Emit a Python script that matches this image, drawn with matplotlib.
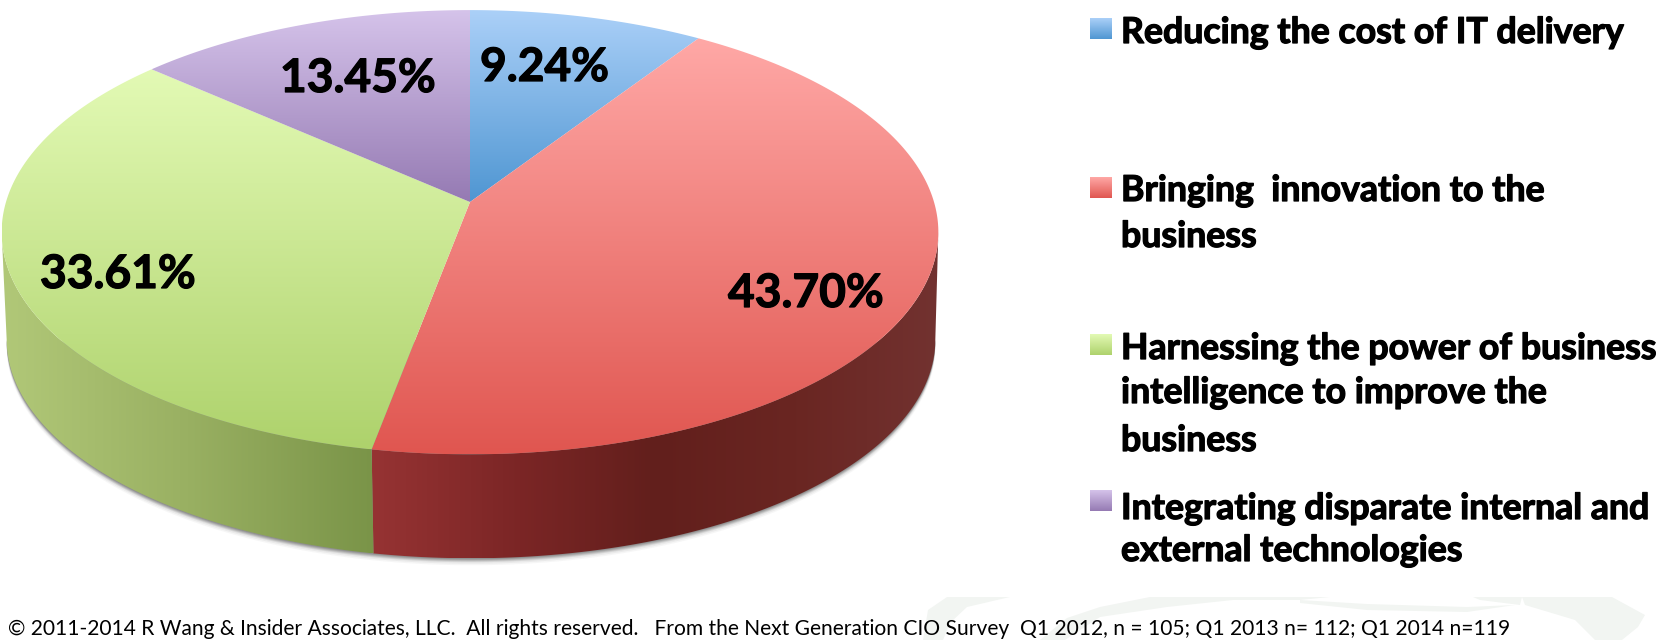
import numpy as np
import matplotlib
matplotlib.use('Agg')
import matplotlib.pyplot as plt
import matplotlib.patheffects as pe
from matplotlib.colors import LinearSegmentedColormap
from matplotlib.patches import Polygon

plt.rcParams['font.family'] = ['Lato', 'DejaVu Sans']

# ----- chart data -----
categories = ['Reducing the cost of IT delivery',
              'Bringing  innovation to the\nbusiness',
              'Harnessing the power of business\nintelligence to improve the\nbusiness',
              'Integrating disparate internal and\nexternal technologies']
shares = [9.24, 43.70, 33.61, 13.45]
value_labels = ['9.24%', '43.70%', '33.61%', '13.45%']
footer = ('\u00a9 2011-2014 R Wang & Insider Associates, LLC.  All rights reserved.   '
          'From the Next Generation CIO Survey  Q1 2012, n = 105; Q1 2013 n= 112; Q1 2014 n=119')

# gradient ends, light to dark
top_colors = [('#abd0f8', '#4f96d2'), ('#ffa8a6', '#e05650'),
              ('#e3fab5', '#aed26c'), ('#d5c3ea', '#957ab3')]
wall_colors = [None, ['#963333', '#7c2626', '#621f1c', '#6a2622', '#723230'],
               ['#b1c878', '#99b062', '#7a9448'], None]

label_x = [480, 728, 40, 280]
label_y = [81, 307, 288, 92]
swatch_y = [18, 177, 334, 490]
line_y = [[43], [201, 247], [359, 403, 451], [519, 561]]

# perspective ellipse for top and bottom rim, in pixels
CX, K = 470, 0.136
TOP = {'a': 464, 'b': 218, 'y0': 202, 'cx': CX}
BOT = {'a': 460, 'b': 214.5, 'y0': 310, 'cx': CX + 1}
SIDE = np.arccos(-K)    # angle where the rim turns back, silhouette of the wall


def rim(theta, g):
    # theta is clockwise from 12 o'clock, radians
    w = 1 + K * np.cos(theta)
    return g['cx'] + g['a'] * np.sin(theta) / w, g['y0'] - g['b'] * np.cos(theta) / w


def gradient_fill(ax, verts, colors, horizontal=False, zorder=2):
    cmap = LinearSegmentedColormap.from_list('g', colors)
    patch = Polygon(verts, closed=True, fc='none', ec='none', transform=ax.transData)
    ax.add_patch(patch)
    x0, x1 = verts[:, 0].min(), verts[:, 0].max()
    y0, y1 = verts[:, 1].min(), verts[:, 1].max()
    ramp = np.linspace(0, 1, 256)
    ramp = ramp[None, :] if horizontal else ramp[:, None]
    im = ax.imshow(ramp, cmap=cmap, vmin=0, vmax=1, extent=(x0, x1, y1, y0),
                   aspect='auto', interpolation='bilinear', zorder=zorder)
    im.set_clip_path(patch)


fig = plt.figure(figsize=(16.65, 6.40), dpi=100)
ax = fig.add_axes([0, 0, 1, 1])

edges = 2 * np.pi * np.concatenate(([0], np.cumsum(shares))) / np.sum(shares)
heavy = [pe.withStroke(linewidth=0.9, foreground='black')]   # source font is heavier than Lato Bold

# watermark swooshes behind the footer
swoosh = [[(923, 640), (928, 610), (947, 597), (1010, 597), (967, 607), (950, 623), (943, 640)],
          [(1040, 640), (1067, 618), (1100, 607), (1150, 597), (1330, 597), (1300, 600),
           (1233, 600), (1167, 607), (1100, 617), (1065, 640)],
          [(1300, 600), (1367, 604), (1467, 607), (1515, 605), (1467, 612), (1367, 610), (1300, 603)],
          [(1473, 597), (1522, 597), (1520, 605), (1480, 600)],
          [(1522, 597), (1612, 597), (1645, 615), (1638, 627), (1622, 640), (1595, 640),
           (1575, 620), (1525, 605)]]
for pts in swoosh:
    ax.add_patch(Polygon(pts, closed=True, fc='#f2f5f2', ec='none', zorder=0))

# soft shadow below the base
full = np.linspace(SIDE, 2 * np.pi - SIDE, 200)
for off, alpha in [(7, 0.05), (5.5, 0.08), (4, 0.14), (3, 0.2), (2, 0.25), (1, 0.3)]:
    x, y = rim(full, BOT)
    ax.add_patch(Polygon(np.column_stack((x, y + off)), closed=True, fc='#606060',
                         ec='none', alpha=alpha, zorder=1))

# side wall, then the top face over it
for i in range(len(shares)):
    if wall_colors[i] is None:
        continue
    th = np.linspace(max(edges[i], SIDE), min(edges[i + 1], 2 * np.pi - SIDE), 200)
    tx, ty = rim(th, TOP)
    bx, by = rim(th, BOT)
    verts = np.column_stack((np.r_[tx, bx[::-1]], np.r_[ty, by[::-1]]))
    gradient_fill(ax, verts, wall_colors[i], horizontal=True, zorder=2)

for i in range(len(shares)):
    th = np.linspace(edges[i], edges[i + 1], 200)
    x, y = rim(th, TOP)
    verts = np.column_stack((np.r_[TOP['cx'], x], np.r_[TOP['y0'], y]))
    gradient_fill(ax, verts, top_colors[i], zorder=3)
    ax.text(label_x[i], label_y[i], value_labels[i], fontsize=33.2, fontweight='bold',
            color='black', ha='left', va='baseline', zorder=5, path_effects=heavy)

# legend, hand placed like the source slide
for i, name in enumerate(categories):
    sw = np.array([(1090, swatch_y[i]), (1112, swatch_y[i]),
                   (1112, swatch_y[i] + 21), (1090, swatch_y[i] + 21)], dtype=float)
    gradient_fill(ax, sw, top_colors[i], zorder=3)
    for text, yy in zip(name.split('\n'), line_y[i]):
        ax.text(1121, yy, text, fontsize=25.7, fontweight='bold', color='black',
                ha='left', va='baseline', zorder=5, path_effects=heavy)

ax.text(8, 635, footer, fontsize=15.1, color='black', ha='left', va='baseline', zorder=5)

ax.set_xlim(0, 1665)
ax.set_ylim(640, 0)
ax.axis('off')

fig.savefig('out.png', dpi=100, facecolor='white')
